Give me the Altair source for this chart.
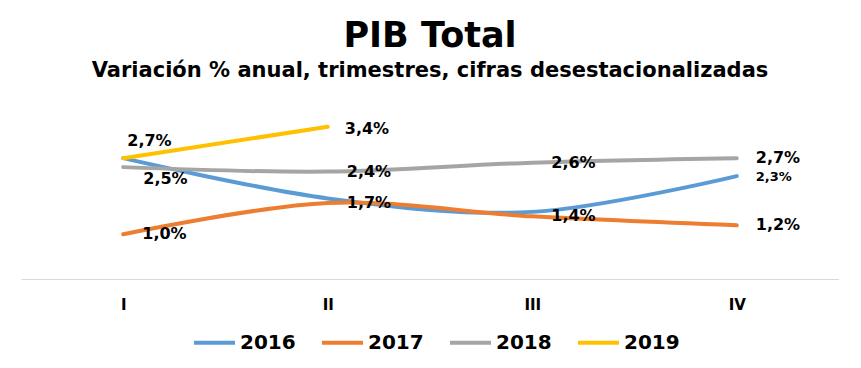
import altair as alt
import pandas as pd

quarters = ["I", "II", "III", "IV"]
years = ["2016", "2017", "2018", "2019"]
v2016 = [2.7, 1.8, 1.5, 2.3]
v2017 = [1.0, 1.7, 1.4, 1.2]
v2018 = [2.5, 2.4, 2.6, 2.7]
v2019 = [2.7, 3.4]
colors = ["#5B9BD5", "#ED7D31", "#A5A5A5", "#FFC000"]

series = {"2016": v2016, "2017": v2017, "2018": v2018, "2019": v2019}
rows = []
for y in years:
    for q, v in zip(quarters, series[y]):
        rows.append({"year": y, "q": q, "v": v,
                     "label": (f"{v:.1f}%").replace(".", ",")})
df = pd.DataFrame(rows)

FONT = "DejaVu Sans"
x = alt.X("q:N", sort=quarters, scale=alt.Scale(type="point", padding=0.5),
          axis=alt.Axis(title=None, labelAngle=0, ticks=False, grid=False,
                        domainColor="#D9D9D9", domainWidth=1,
                        labelFont=FONT, labelFontSize=15, labelFontWeight="bold",
                        labelColor="black", labelPadding=18))
y = alt.Y("v:Q", scale=alt.Scale(domain=[0, 4]), axis=None)

base = alt.Chart(df)

lines = base.mark_line(strokeWidth=4, interpolate="cardinal", strokeCap="round").encode(
    x=x, y=y,
    color=alt.Color("year:N", scale=alt.Scale(domain=years, range=colors),
                    legend=alt.Legend(orient="none", direction="horizontal", title=None,
                                      legendX=171, legendY=220,
                                      labelFont=FONT, labelFontSize=20,
                                      labelFontWeight="bold", labelColor="black",
                                      symbolType="stroke", symbolStrokeWidth=4,
                                      symbolSize=1681, labelOffset=3,
                                      columnPadding=18)),
    order=alt.Order("q:N"),
)

def labels(filt, dx, dy, size=16):
    return base.transform_filter(filt).mark_text(
        align="left", baseline="middle", dx=dx, dy=dy, font=FONT,
        fontSize=size, fontWeight="bold", color="black"
    ).encode(x=x, y=y, text="label:N")

std = ("(datum.year=='2017') || (datum.year=='2018' && datum.q!='I')")
lab_std = labels(std, 19, 0)
lab_2016 = labels("datum.year=='2016' && datum.q=='IV'", 19, 1, 13)
lab_2018a = labels("datum.year=='2018' && datum.q=='I'", 20, 12)
lab_2019a = labels("datum.year=='2019' && datum.q=='I'", 4, -17)
lab_2019b = labels("datum.year=='2019' && datum.q=='II'", 17, 2)

chart = alt.layer(lines, lab_std, lab_2016, lab_2018a, lab_2019a, lab_2019b).properties(
    width=818, height=179,
    autosize=alt.AutoSizeParams(type="none"),
    padding={"left": 13, "top": 92, "right": 0, "bottom": 85},
    background="white",
    title=alt.Title(text="PIB Total",
                    subtitle="Variación % anual, trimestres, cifras desestacionalizadas",
                    font=FONT, fontSize=35, fontWeight="bold", color="black",
                    subtitleFont=FONT, subtitleFontSize=21, subtitleFontWeight="bold",
                    subtitleColor="black", anchor="middle", frame="group",
                    offset=19, subtitlePadding=6),
).configure_view(stroke=None)

chart.save("out.html", embed_options={"renderer": "svg", "actions": False})
